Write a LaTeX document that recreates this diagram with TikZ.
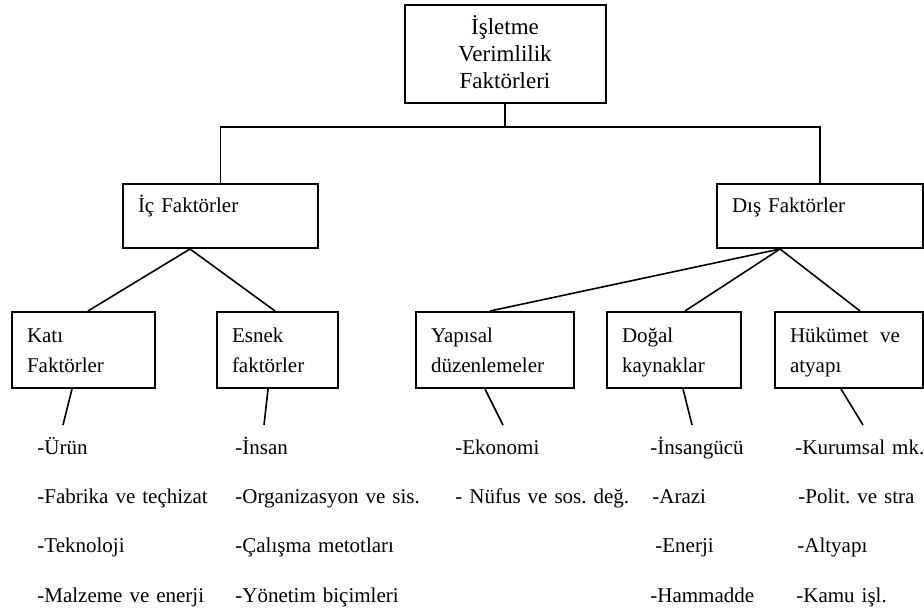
\documentclass[tikz,border=0pt]{standalone}
\usepackage{fontspec}
\setmainfont{Liberation Serif}
\usetikzlibrary{calc}
\frenchspacing

\tikzset{
  kutu/.style={draw,line width=1pt,inner xsep=7.5pt,inner ysep=0pt,align=left,
    font=\fontsize{10.5}{15}\selectfont,text height=8pt,text depth=15pt,minimum height=38pt},
  liste/.style={anchor=base west,inner sep=0pt,align=left,text width=100pt,
    font=\fontsize{10.5}{24.7}\selectfont},
  bag/.style={line width=0.8pt}
}

\begin{document}
\begin{tikzpicture}[x=0.5pt,y=-0.5pt]
\useasboundingbox (0,0) rectangle (924,608);
% ust seviye
\node[kutu,align=center,text width=85.5pt,minimum height=49pt,text depth=27pt,
  font=\fontsize{11.5}{13.5}\selectfont] (kok) at (505,54) {İşletme\\Verimlilik\\Faktörleri};
\node[kutu,text width=82.5pt,minimum height=32pt,text depth=11pt] (ic) at (220.5,216) {İç Faktörler};
\node[kutu,text width=88pt,minimum height=32pt,text depth=11pt] (dis) at (820,216) {Dış Faktörler};
% alt kutular
\node[kutu,text width=56.5pt] (kati) at (83.5,350) {Katı\\Faktörler};
\node[kutu,text width=45.5pt] (esnek) at (277.5,350) {Esnek\\faktörler};
\node[kutu,text width=64pt] (yapisal) at (495,350) {Yapısal\\düzenlemeler};
\node[kutu,text width=52pt] (dogal) at (674,350) {Doğal\\kaynaklar};
\node[kutu,text width=59pt] (hukumet) at (849,350) {Hükümet\hspace{6pt}ve\\atyapı};
% listeler
\node[liste] (l1) at (37,454) {-Ürün\\-Fabrika ve teçhizat\\-Teknoloji\\-Malzeme ve enerji};
\node[liste] (l2) at (235,454) {-İnsan\\-Organizasyon ve sis.\\-Çalışma metotları\\-Yönetim biçimleri};
\node[liste] (l3) at (455,454) {-Ekonomi\\- Nüfus ve sos. değ.};
\node[liste] (l4) at (650,454) {-İnsangücü\\\hspace{1pt}-Arazi\\\hspace{2.5pt}-Enerji\\-Hammadde};
\node[liste] (l5) at (795,454) {-Kurumsal mk.\\\hspace{1.5pt}-Polit. ve stra\\\hspace{1pt}-Altyapı\\\hspace{0.5pt}-Kamu işl.};
% baglantilar
\draw[bag] (kok.south) -- ++(0,23) coordinate (ayrim);
\draw[bag] (ic.north) |- (ayrim) -| (dis.north);
\coordinate (icuc) at ([xshift=-15.25pt]ic.south);
\coordinate (disuc) at ([xshift=-20pt]dis.south);
\draw[bag] (icuc) -- ([xshift=2.25pt]kati.north);
\draw[bag] (icuc) -- ([xshift=-1.25pt]esnek.north);
\draw[bag] (disuc) -- ([xshift=-2.5pt]yapisal.north);
\draw[bag] (disuc) -- ([xshift=5.5pt]dogal.north);
\draw[bag] (disuc) -- ([xshift=5.5pt]hukumet.north);
\coordinate (u1) at (63,425);
\coordinate (u2) at (264,425);
\coordinate (u3) at (503,425);
\coordinate (u4) at (692,425);
\coordinate (u5) at (863,425);
\draw[bag] ([xshift=-5.75pt]kati.south) -- (u1);
\draw[bag] ([xshift=-4.75pt]esnek.south) -- (u2);
\draw[bag] ([xshift=-5pt]yapisal.south) -- (u3);
\draw[bag] ([xshift=4.5pt]dogal.south) -- (u4);
\draw[bag] ([xshift=-4pt]hukumet.south) -- (u5);
\end{tikzpicture}
\end{document}
